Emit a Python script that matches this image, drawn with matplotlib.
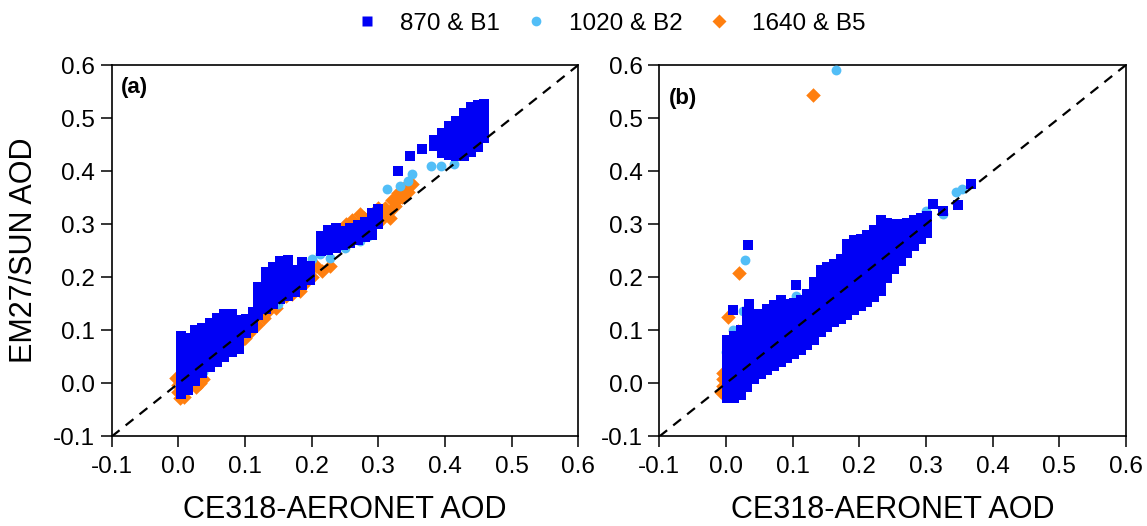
import numpy as np
import matplotlib
matplotlib.use("Agg")
from matplotlib import pyplot as plt
from matplotlib.lines import Line2D

plt.rcParams['font.family'] = ['Liberation Sans', 'DejaVu Sans']

# legend labels / colours
labels = ['870 & B1', '1020 & B2', '1640 & B5']
colors = ['#0000F5', '#52BEF7', '#FF7F0F']

# ---- panel (a) ----
# blue cloud, given as (x, [y values]) columns
a_blue_cols = [
    (0.004, [-0.02, -0.006, 0.008, 0.022, 0.036, 0.05, 0.064, 0.078, 0.09]),
    (0.014, [-0.012, 0.002, 0.016, 0.03, 0.044, 0.058, 0.072, 0.086]),
    (0.025, [0.005, 0.019, 0.033, 0.047, 0.061, 0.075, 0.089, 0.1]),
    (0.036, [0.02, 0.034, 0.048, 0.062, 0.076, 0.09, 0.104]),
    (0.047, [0.03, 0.044, 0.058, 0.072, 0.086, 0.1, 0.114]),
    (0.058, [0.04, 0.054, 0.068, 0.082, 0.096, 0.11, 0.124]),
    (0.069, [0.05, 0.064, 0.078, 0.092, 0.106, 0.12, 0.13]),
    (0.08, [0.06, 0.074, 0.088, 0.102, 0.116, 0.13]),
    (0.091, [0.065, 0.079, 0.093, 0.107, 0.12]),
    (0.102, [0.095, 0.109, 0.122]),
    (0.112, [0.105, 0.12, 0.135]),
    (0.12, [0.128, 0.142, 0.156, 0.17, 0.182]),
    (0.131, [0.14, 0.154, 0.168, 0.182, 0.196, 0.21]),
    (0.142, [0.15, 0.164, 0.178, 0.192, 0.206, 0.22]),
    (0.153, [0.16, 0.174, 0.188, 0.202, 0.216, 0.23]),
    (0.164, [0.165, 0.179, 0.193, 0.207, 0.221, 0.232]),
    (0.175, [0.172, 0.186, 0.2, 0.214]),
    (0.186, [0.186, 0.2, 0.214, 0.228]),
    (0.197, [0.195, 0.209, 0.222]),
    (0.214, [0.25, 0.264, 0.278]),
    (0.225, [0.252, 0.266, 0.28, 0.29]),
    (0.236, [0.256, 0.27, 0.284, 0.292]),
    (0.247, [0.26, 0.274, 0.288]),
    (0.258, [0.264, 0.278, 0.292]),
    (0.269, [0.27, 0.284, 0.298]),
    (0.28, [0.276, 0.29, 0.304]),
    (0.291, [0.28, 0.294, 0.308, 0.322]),
    (0.3, [0.3, 0.314, 0.328]),
    (0.33, [0.4]),
    (0.347, [0.429]),
    (0.365, [0.441]),
    (0.384, [0.447, 0.458]),
    (0.395, [0.435, 0.449, 0.463, 0.472]),
    (0.406, [0.43, 0.444, 0.458, 0.472, 0.485]),
    (0.417, [0.428, 0.442, 0.456, 0.47, 0.484, 0.495]),
    (0.428, [0.428, 0.442, 0.456, 0.47, 0.484, 0.498, 0.51]),
    (0.439, [0.436, 0.45, 0.464, 0.478, 0.492, 0.506, 0.52]),
    (0.45, [0.445, 0.459, 0.473, 0.487, 0.501, 0.515, 0.525]),
    (0.458, [0.462, 0.476, 0.49, 0.504, 0.518, 0.527]),
]
a_lblue_x = [0.003, 0.037, 0.06, 0.1, 0.15, 0.2, 0.213, 0.227, 0.25, 0.273, 0.285,
             0.313, 0.333, 0.345, 0.35, 0.379, 0.394, 0.414]
a_lblue_y = [-0.003, 0.022, 0.055, 0.095, 0.15, 0.235, 0.243, 0.236, 0.255, 0.268, 0.278,
             0.366, 0.372, 0.381, 0.394, 0.41, 0.41, 0.413]
a_orange_x = [-0.003, 0.0, 0.0, 0.003, 0.009, 0.026, 0.032, 0.037,
              0.092, 0.1, 0.106, 0.112, 0.118, 0.129, 0.135, 0.147, 0.162, 0.17, 0.182,
              0.187, 0.201, 0.207, 0.216, 0.227, 0.252, 0.261, 0.272, 0.278,
              0.3, 0.305, 0.31, 0.315, 0.318, 0.32, 0.325, 0.33, 0.33, 0.335, 0.34,
              0.345, 0.35]
a_orange_y = [0.01, -0.003, -0.016, -0.028, -0.025, -0.006, 0.0, 0.009,
              0.078, 0.085, 0.095, 0.106, 0.11, 0.123, 0.136, 0.142, 0.165, 0.169, 0.175,
              0.186, 0.2, 0.222, 0.211, 0.221, 0.3, 0.308, 0.319, 0.312,
              0.33, 0.31, 0.33, 0.322, 0.312, 0.345, 0.335, 0.358, 0.347, 0.352, 0.37,
              0.36, 0.375]

# ---- panel (b) ----
b_blue_cols = [
    (0.002, [-0.028, -0.014, 0.0, 0.014, 0.028, 0.042, 0.056, 0.07, 0.082]),
    (0.012, [-0.028, -0.014, 0.0, 0.014, 0.028, 0.042, 0.056, 0.07, 0.085, 0.09]),
    (0.022, [-0.022, -0.008, 0.006, 0.02, 0.034, 0.048, 0.062, 0.077, 0.092, 0.1]),
    (0.032, [-0.006, 0.008, 0.022, 0.036, 0.05, 0.065, 0.08, 0.095, 0.11, 0.125, 0.135]),
    (0.042, [0.008, 0.022, 0.036, 0.05, 0.065, 0.08, 0.095, 0.11, 0.125, 0.13]),
    (0.052, [0.018, 0.032, 0.046, 0.06, 0.075, 0.09, 0.105, 0.12, 0.13]),
    (0.062, [0.025, 0.04, 0.055, 0.07, 0.085, 0.1, 0.115, 0.128, 0.14]),
    (0.072, [0.033, 0.048, 0.063, 0.078, 0.093, 0.108, 0.122, 0.136, 0.148]),
    (0.082, [0.04, 0.055, 0.07, 0.085, 0.1, 0.115, 0.13, 0.144, 0.158]),
    (0.092, [0.048, 0.063, 0.078, 0.093, 0.108, 0.122, 0.136, 0.15]),
    (0.102, [0.056, 0.071, 0.086, 0.1, 0.115, 0.13, 0.145, 0.152]),
    (0.112, [0.063, 0.078, 0.093, 0.107, 0.122, 0.137, 0.152, 0.158]),
    (0.122, [0.072, 0.087, 0.1, 0.115, 0.13, 0.145, 0.16, 0.168]),
    (0.132, [0.082, 0.097, 0.11, 0.125, 0.14, 0.155, 0.17, 0.185, 0.192]),
    (0.142, [0.096, 0.11, 0.125, 0.14, 0.155, 0.17, 0.185, 0.2, 0.213]),
    (0.152, [0.106, 0.12, 0.135, 0.15, 0.165, 0.18, 0.195, 0.21, 0.22]),
    (0.162, [0.115, 0.13, 0.145, 0.16, 0.175, 0.19, 0.205, 0.22, 0.225]),
    (0.172, [0.122, 0.137, 0.152, 0.167, 0.182, 0.197, 0.212, 0.227, 0.235]),
    (0.182, [0.128, 0.143, 0.158, 0.173, 0.188, 0.203, 0.218, 0.233, 0.248, 0.262]),
    (0.192, [0.138, 0.153, 0.168, 0.183, 0.198, 0.213, 0.228, 0.243, 0.256, 0.27]),
    (0.202, [0.145, 0.16, 0.175, 0.19, 0.205, 0.22, 0.235, 0.25, 0.265, 0.272]),
    (0.212, [0.153, 0.168, 0.183, 0.198, 0.213, 0.228, 0.243, 0.258, 0.272, 0.28]),
    (0.222, [0.162, 0.177, 0.192, 0.207, 0.222, 0.237, 0.252, 0.267, 0.282, 0.29]),
    (0.232, [0.175, 0.19, 0.205, 0.22, 0.235, 0.25, 0.265, 0.28, 0.295, 0.308]),
    (0.242, [0.198, 0.213, 0.228, 0.243, 0.258, 0.273, 0.288, 0.303]),
    (0.252, [0.215, 0.23, 0.245, 0.26, 0.275, 0.29, 0.3]),
    (0.262, [0.23, 0.245, 0.26, 0.275, 0.29, 0.3]),
    (0.272, [0.245, 0.26, 0.275, 0.29, 0.302]),
    (0.282, [0.258, 0.273, 0.288, 0.303, 0.308]),
    (0.292, [0.272, 0.287, 0.302, 0.312]),
    (0.302, [0.284, 0.3, 0.316]),
    (0.31, [0.338]),
    (0.326, [0.324]),
    (0.348, [0.337]),
    (0.368, [0.375]),
    (0.0325, [0.26]),
    (0.105, [0.186]),
    (0.035, [0.15]),
    (0.01, [0.138]),
]
b_lblue_x = [0.165, 0.029, 0.105, 0.025, 0.345, 0.354, 0.3, 0.326, 0.233, 0.169,
             0.003, 0.0, 0.01, 0.08, 0.2, 0.15, 0.26]
b_lblue_y = [0.59, 0.233, 0.165, 0.137, 0.36, 0.366, 0.324, 0.319, 0.272, 0.224,
             0.035, 0.06, 0.1, 0.15, 0.25, 0.2, 0.3]
b_orange_x = [0.13, 0.02, 0.0025, 0.0175, -0.005, -0.0075, -0.005, -0.004, 0.1625, 0.06, 0.05]
b_orange_y = [0.543, 0.208, 0.126, 0.099, 0.008, -0.017, 0.02, -0.005, 0.197, 0.1, 0.04]

ticks = [-0.1, 0.0, 0.1, 0.2, 0.3, 0.4, 0.5, 0.6]


def expand(cols):
    xs, ys = [], []
    for x, col in cols:
        xs.extend([x] * len(col))
        ys.extend(col)
    return xs, ys


fig = plt.figure(figsize=(11.47, 5.26), dpi=100)
ax_a = fig.add_axes([0.0974, 0.1702, 0.4068, 0.7062])
ax_b = fig.add_axes([0.5748, 0.1702, 0.4068, 0.7062])

panels = [
    (ax_a, a_blue_cols, a_lblue_x, a_lblue_y, a_orange_x, a_orange_y, '(a)', 0.94),
    (ax_b, b_blue_cols, b_lblue_x, b_lblue_y, b_orange_x, b_orange_y, '(b)', 0.91),
]
for ax, bcols, lx, ly, ox, oy, tag, ty in panels:
    bx, by = expand(bcols)
    ax.scatter(ox, oy, marker='D', s=55, color=colors[2], linewidths=0, zorder=2)
    ax.scatter(lx, ly, marker='o', s=50, color=colors[1], linewidths=0, zorder=3)
    ax.scatter(bx, by, marker='s', s=62, color=colors[0], linewidths=0, zorder=4)
    ax.plot([-0.1, 0.6], [-0.1, 0.6], color='black', lw=1.6, ls=(0, (4.5, 3.5)), zorder=5)
    ax.set_xlim(-0.1, 0.6)
    ax.set_ylim(-0.1, 0.6)
    ax.set_xticks(ticks)
    ax.set_yticks(ticks)
    ax.set_xticklabels([f'{t:.1f}' for t in ticks])
    ax.set_yticklabels([f'{t:.1f}' for t in ticks])
    ax.tick_params(axis='both', direction='out', length=8, width=1.1, labelsize=17.5,
                   top=False, right=False)
    ax.tick_params(axis='x', pad=6)
    ax.tick_params(axis='y', pad=4)
    for sp in ax.spines.values():
        sp.set_linewidth(1.2)
    ax.text(0.02, ty, tag, transform=ax.transAxes, fontsize=16, fontweight='bold',
            va='center', ha='left')
    ax.set_xlabel('CE318-AERONET AOD', fontsize=22, labelpad=12)

ax_a.set_ylabel('EM27/SUN AOD', fontsize=22, labelpad=10)

handles = [
    Line2D([], [], ls='none', marker='s', ms=7.5, color=colors[0], mec='none'),
    Line2D([], [], ls='none', marker='o', ms=7, color=colors[1], mec='none'),
    Line2D([], [], ls='none', marker='D', ms=7, color=colors[2], mec='none'),
]
fig.legend(handles, labels, loc='center', bbox_to_anchor=(0.532, 0.955), ncol=3,
           frameon=False, fontsize=17.5, handlelength=1.0, handletextpad=0.85,
           columnspacing=1.0)

fig.savefig('out.png', dpi=100)
